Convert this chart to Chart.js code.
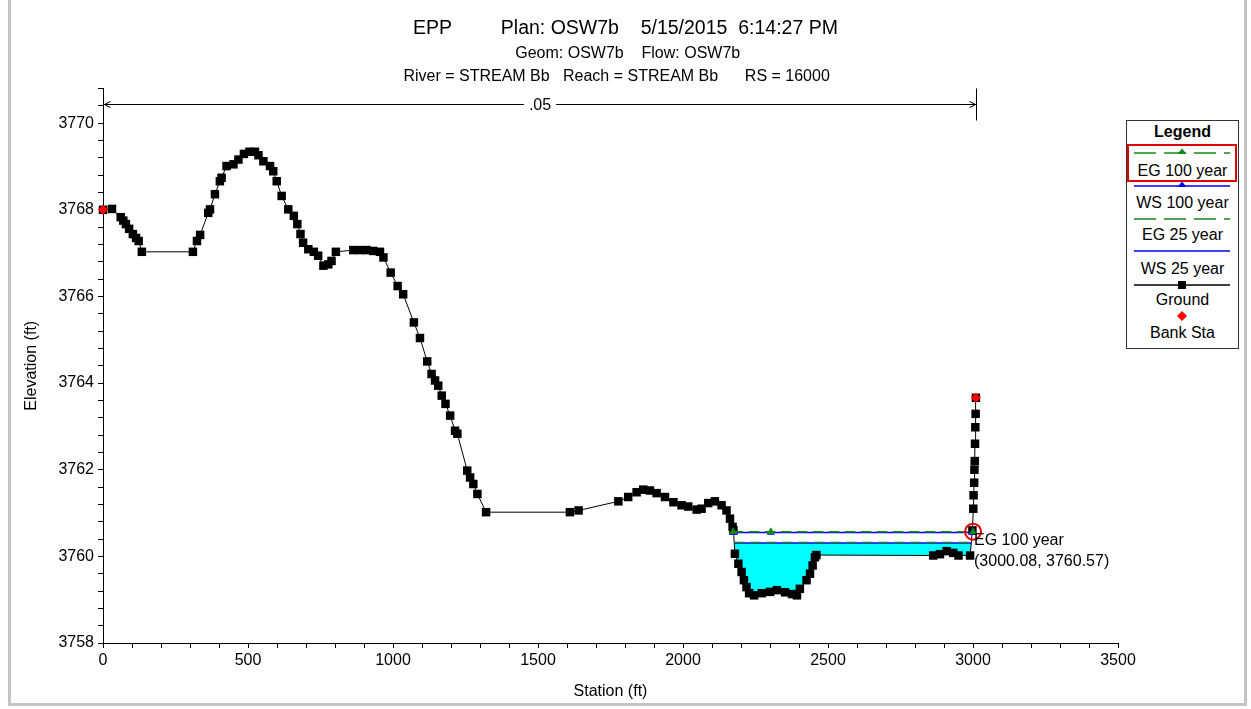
<!DOCTYPE html>
<html>
<head>
<meta charset="utf-8">
<script src="https://cdn.jsdelivr.net/npm/chart.js@4.4.1/dist/chart.umd.min.js"></script>
<style>
html,body{margin:0;padding:0;background:#fff;}
#wrap{position:relative;width:1251px;height:709px;overflow:hidden;background:#fff;}
#c{position:absolute;left:0;top:0;}
.fr{position:absolute;background:#c4c4c4;}
#legend{position:absolute;left:1126px;top:120px;width:111px;height:227px;border:1px solid #333;background:#fff;
  font-family:"Liberation Sans",Arial,sans-serif;font-size:16px;color:#000;}
#legend .ttl{position:absolute;left:0;width:100%;top:1px;text-align:center;font-weight:bold;font-size:16px;line-height:20px;}
#legend .lbl{position:absolute;left:0;width:100%;text-align:center;line-height:18px;white-space:nowrap;}
#legend svg{position:absolute;left:7px;}
#legend .hl{position:absolute;left:0px;top:23px;width:106px;height:34px;border:2px solid #e00000;}
</style>
</head>
<body>
<div id="wrap">
  <canvas id="c" width="1251" height="709"></canvas>
  <div id="legend"></div>
  <div class="fr" style="left:8px;top:0;width:3px;height:706px;"></div>
  <div class="fr" style="left:8px;top:703px;width:1239px;height:3px;"></div>
  <div class="fr" style="left:1244px;top:0;width:3px;height:706px;"></div>
</div>
<script>
// ---------------- data ----------------
const titleLine = 'EPP         Plan: OSW7b    5/15/2015  6:14:27 PM';
const subtitleLines = [' Geom: OSW7b    Flow: OSW7b', 'River = STREAM Bb   Reach = STREAM Bb      RS = 16000    '];
const xAxisTitle = 'Station (ft)';
const yAxisTitle = 'Elevation (ft)';
const xTickLabels = [0, 500, 1000, 1500, 2000, 2500, 3000, 3500];
const yTickLabels = [3758, 3760, 3762, 3764, 3766, 3768, 3770];

const groundStation = [0, 31, 61, 70, 79, 90, 103, 114, 123, 134, 310, 324, 335, 363, 369, 386, 403, 409, 426, 450, 467, 486, 505, 524, 536, 553, 576, 587, 599, 616, 639, 658, 670, 681, 690, 708, 727, 742, 760, 777, 788, 803, 863, 886, 909, 932, 955, 967, 992, 1016, 1035, 1072, 1093, 1118, 1133, 1145, 1156, 1168, 1181, 1197, 1214, 1222, 1256, 1266, 1277, 1291, 1321, 1610, 1640, 1777, 1811, 1840, 1863, 1886, 1909, 1938, 1967, 1995, 2018, 2047, 2064, 2087, 2110, 2133, 2150, 2162, 2171, 2174, 2179, 2191, 2202, 2210, 2219, 2228, 2245, 2272, 2300, 2324, 2352, 2376, 2393, 2403, 2426, 2438, 2447, 2455, 2460, 2863, 2886, 2909, 2932, 2950, 2990, 2998, 3001, 3002, 3004, 3005, 3006, 3007, 3008, 3009, 3010];
const groundElev = [3768.00, 3768.02, 3767.83, 3767.75, 3767.67, 3767.56, 3767.44, 3767.35, 3767.28, 3767.03, 3767.03, 3767.28, 3767.42, 3767.93, 3768.01, 3768.36, 3768.66, 3768.74, 3769.01, 3769.05, 3769.16, 3769.29, 3769.34, 3769.34, 3769.26, 3769.12, 3769.01, 3768.89, 3768.66, 3768.32, 3768.01, 3767.86, 3767.67, 3767.44, 3767.24, 3767.09, 3767.03, 3766.94, 3766.71, 3766.74, 3766.82, 3767.03, 3767.07, 3767.07, 3767.07, 3767.05, 3767.03, 3766.90, 3766.55, 3766.24, 3766.05, 3765.40, 3765.04, 3764.50, 3764.21, 3764.06, 3763.94, 3763.71, 3763.52, 3763.25, 3762.90, 3762.83, 3761.98, 3761.82, 3761.67, 3761.44, 3761.02, 3761.02, 3761.06, 3761.27, 3761.37, 3761.48, 3761.54, 3761.52, 3761.46, 3761.37, 3761.25, 3761.18, 3761.15, 3761.08, 3761.10, 3761.23, 3761.27, 3761.18, 3761.06, 3760.87, 3760.68, 3760.60, 3760.06, 3759.83, 3759.64, 3759.45, 3759.29, 3759.15, 3759.10, 3759.15, 3759.18, 3759.22, 3759.17, 3759.13, 3759.10, 3759.25, 3759.45, 3759.60, 3759.79, 3759.98, 3760.03, 3760.02, 3760.05, 3760.12, 3760.08, 3760.02, 3760.02, 3760.60, 3761.10, 3761.41, 3761.70, 3762.00, 3762.20, 3762.60, 3762.98, 3763.29, 3763.66];

const bankStation = [0, 3010];
const bankElev = [3768.00, 3763.66];

const eg100Station = [2173, 2303, 3000.08];
const eg100Elev = [3760.57, 3760.57, 3760.57];
const ws100Station = [2173, 2303, 3000.08];
const ws100Elev = [3760.55, 3760.55, 3760.55];
const eg25Station = [2176.5, 2994];
const eg25Elev = [3760.32, 3760.32];
const ws25Station = [2176.5, 2994];
const ws25Elev = [3760.31, 3760.31];

const manningN = ['.05'];
const markedSeries = 'EG 100 year';
const markedPoint = [3000.08, 3760.57];

const legendLabels = ['EG 100 year', 'WS 100 year', 'EG 25 year', 'WS 25 year', 'Ground', 'Bank Sta'];

// ---------------- styling ----------------
const GREEN = '#12891a', BLUE = '#0000ff', CYAN = '#00ffff', RED = '#ff0000', BLACK = '#000000';
const FONT = '"Liberation Sans", Arial, sans-serif';
Chart.defaults.font.family = FONT;
Chart.defaults.color = '#000';

const pts = (xs, ys) => xs.map((x, i) => ({x: x, y: ys[i]}));

// ---------------- legend (HTML) ----------------
const legendStyle = [
  {color: GREEN, dash: '22 8', marker: 'tri', lineY: 32, textY: 50},
  {color: BLUE, dash: '', marker: 'tri', lineY: 65, textY: 82},
  {color: GREEN, dash: '22 8', marker: null, lineY: 98, textY: 114},
  {color: BLUE, dash: '', marker: null, lineY: 130, textY: 148},
  {color: BLACK, dash: '', marker: 'sq', lineY: 164, textY: 179},
  {color: RED, dash: null, marker: 'dia', lineY: 195, textY: 212}
];
(function buildLegend(){
  const lg = document.getElementById('legend');
  let html = '<div class="ttl">Legend</div><div class="hl"></div>';
  legendLabels.forEach((lab, i) => {
    const s = legendStyle[i];
    let svg = '<svg width="96" height="12" style="top:' + (s.lineY - 6) + 'px">';
    if (s.dash !== null) svg += '<line x1="0" y1="6" x2="96" y2="6" stroke="' + s.color + '" stroke-width="1.5"' + (s.dash ? ' stroke-dasharray="' + s.dash + '"' : '') + '/>';
    if (s.marker === 'tri') svg += '<polygon points="48,1.5 52.5,7 43.5,7" fill="' + s.color + '"/>';
    if (s.marker === 'sq') svg += '<rect x="44" y="2" width="8" height="8" fill="' + s.color + '"/>';
    if (s.marker === 'dia') svg += '<polygon points="48,1 53,6 48,11 43,6" fill="' + s.color + '"/>';
    svg += '</svg>';
    html += svg + '<div class="lbl" style="top:' + (s.textY - 9) + 'px">' + lab + '</div>';
  });
  lg.innerHTML = html;
})();

// ---------------- plugins ----------------
const manningPlugin = {
  id: 'manning',
  afterDatasetsDraw(chart) {
    const ctx = chart.ctx, xs = chart.scales.x, ca = chart.chartArea;
    const x0 = Math.round(xs.getPixelForValue(bankStation[0])) + 0.5;
    const x1 = Math.round(xs.getPixelForValue(bankStation[1])) + 0.5;
    const y = Math.round(ca.top + 15) + 0.5;
    ctx.save();
    ctx.strokeStyle = '#000'; ctx.lineWidth = 1;
    ctx.beginPath();
    ctx.moveTo(x0, y); ctx.lineTo(x1, y);
    ctx.moveTo(x0 + 1, y); ctx.lineTo(x0 + 7, y - 3);
    ctx.moveTo(x0 + 1, y); ctx.lineTo(x0 + 7, y + 3);
    ctx.moveTo(x1 - 1, y); ctx.lineTo(x1 - 7, y - 3);
    ctx.moveTo(x1 - 1, y); ctx.lineTo(x1 - 7, y + 3);
    ctx.moveTo(x1, ca.top); ctx.lineTo(x1, ca.top + 32);
    ctx.stroke();
    ctx.font = '16px ' + FONT;
    const tw = ctx.measureText(manningN[0]).width;
    const xm = (x0 + x1) / 2;
    ctx.fillStyle = '#fff';
    ctx.fillRect(xm - tw / 2 - 5, y - 8, tw + 10, 16);
    ctx.fillStyle = '#000';
    ctx.textAlign = 'center'; ctx.textBaseline = 'middle';
    ctx.fillText(manningN[0], xm, y + 1);
    ctx.restore();
  }
};

const markPlugin = {
  id: 'mark',
  afterDatasetsDraw(chart) {
    const ctx = chart.ctx;
    const px = chart.scales.x.getPixelForValue(markedPoint[0]);
    const py = chart.scales.y.getPixelForValue(markedPoint[1]);
    ctx.save();
    ctx.strokeStyle = '#ee0000'; ctx.lineWidth = 2;
    ctx.beginPath(); ctx.arc(px, py, 8, 0, Math.PI * 2); ctx.stroke();
    ctx.fillStyle = '#000';
    ctx.font = '16px ' + FONT;
    ctx.textAlign = 'left'; ctx.textBaseline = 'middle';
    ctx.fillText(markedSeries, px + 1, py + 9);
    ctx.fillText('(' + markedPoint[0].toFixed(2) + ', ' + markedPoint[1].toFixed(2) + ')', px + 1, py + 30);
    ctx.restore();
  }
};

// ---------------- chart ----------------
new Chart(document.getElementById('c'), {
  type: 'line',
  data: {
    datasets: [
      {label: legendLabels[0], data: pts(eg100Station, eg100Elev), borderColor: GREEN, borderWidth: 1.5, borderDash: [10, 6],
       pointStyle: 'triangle', pointRadius: 4.5, pointBackgroundColor: GREEN, pointBorderColor: GREEN, pointBorderWidth: 0, fill: false, order: 1, clip: false},
      {label: legendLabels[1], data: pts(ws100Station, ws100Elev), borderColor: BLUE, borderWidth: 1.5,
       pointStyle: 'triangle', pointRadius: 4.5, pointBackgroundColor: BLUE, pointBorderColor: BLUE, pointBorderWidth: 0, fill: false, order: 2, clip: false},
      {label: legendLabels[2], data: pts(eg25Station, eg25Elev), borderColor: GREEN, borderWidth: 1.5, borderDash: [10, 6],
       pointRadius: 0, fill: false, order: 3, clip: false},
      {label: legendLabels[3], data: pts(ws25Station, ws25Elev), borderColor: BLUE, borderWidth: 1.5,
       pointRadius: 0, fill: {target: 4, above: CYAN, below: 'rgba(0,0,0,0)'}, order: 4, clip: false},
      {label: legendLabels[4], data: pts(groundStation, groundElev), borderColor: BLACK, borderWidth: 1,
       pointStyle: 'rect', pointRadius: 6, pointBackgroundColor: BLACK, pointBorderColor: BLACK, pointBorderWidth: 0, fill: false, order: 5, clip: false},
      {label: legendLabels[5], data: pts(bankStation, bankElev), showLine: false,
       pointStyle: 'rectRot', pointRadius: 5, pointBackgroundColor: RED, pointBorderColor: RED, pointBorderWidth: 0, fill: false, order: 0, clip: false}
    ]
  },
  options: {
    responsive: false,
    animation: false,
    events: [],
    layout: {padding: {left: 0, right: 0, top: 0, bottom: 0}},
    plugins: {
      legend: {display: false},
      tooltip: {enabled: false},
      filler: {drawTime: 'beforeDatasetsDraw'},
      title: {display: true, text: titleLine, color: '#000', font: {size: 19.5, weight: 'normal', lineHeight: 1.2},
              padding: {top: 17.3, bottom: 1.8}},
      subtitle: {display: true, text: subtitleLines, color: '#000', font: {size: 16, weight: 'normal', lineHeight: 1.4375},
                 padding: {top: 0, bottom: 0}}
    },
    scales: {
      x: {
        type: 'linear', min: 0, max: 3500,
        ticks: {stepSize: 100, autoSkip: false, maxRotation: 0, minRotation: 0, padding: 3, color: '#000', font: {size: 16},
                callback: (v) => xTickLabels.includes(v) ? String(v) : ''},
        grid: {drawOnChartArea: false, drawTicks: true, tickLength: 5, color: '#000', tickColor: '#000', lineWidth: 1},
        border: {display: true, color: '#000', width: 1},
        title: {display: true, text: xAxisTitle, color: '#000', font: {size: 16}, padding: {top: 0, bottom: 8}},
        afterFit: (s) => { s.height = 66; }
      },
      y: {
        type: 'linear', min: 3758, max: 3770.8,
        ticks: {stepSize: 0.4, autoSkip: false, padding: 4, color: '#000', font: {size: 16},
                callback: (v) => { const m = yTickLabels.find(t => Math.abs(t - v) < 1e-6); return m !== undefined ? String(m) : ''; }},
        grid: {drawOnChartArea: false, drawTicks: true, tickLength: 5, color: '#000', tickColor: '#000', lineWidth: 1},
        border: {display: true, color: '#000', width: 1},
        title: {display: true, text: yAxisTitle, color: '#000', font: {size: 16}, padding: {top: 22, bottom: 0}},
        afterFit: (s) => { s.width = 103; }
      },
      yRight: {
        type: 'linear', position: 'right', min: 3758, max: 3770.8,
        ticks: {display: false},
        grid: {display: false, drawTicks: false},
        border: {display: false},
        title: {display: false},
        afterFit: (s) => { s.width = 133; }
      }
    }
  },
  plugins: [manningPlugin, markPlugin]
});
</script>
</body>
</html>
